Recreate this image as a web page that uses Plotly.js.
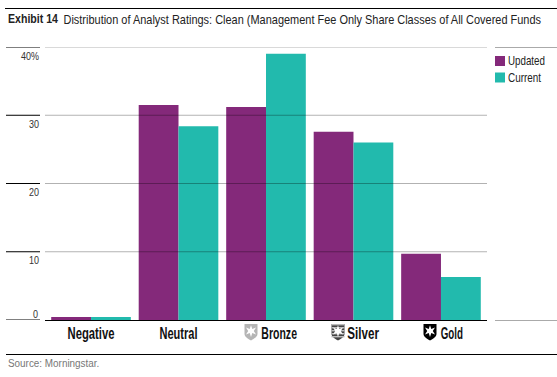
<!DOCTYPE html>
<html>
<head>
<meta charset="utf-8">
<script src="https://cdn.plot.ly/plotly-3.0.1.min.js"></script>
<style>html,body{margin:0;padding:0;background:#fff}#c{width:557px;height:377px}</style>
</head>
<body>
<div id="c"></div>
<script>
const categories = ["Negative", "Neutral", "Bronze", "Silver", "Gold"];
const categoryLabels = ["Negative", "Neutral", "\u00A0".repeat(9) + "Bronze", "\u00A0".repeat(6) + "Silver", "\u00A0".repeat(8) + "Gold"];
const updated = [0.45, 31.5, 31.2, 27.6, 9.7];
const current = [0.45, 28.4, 39.0, 26.0, 6.3];
const yTicks = [0, 10, 20, 30, 40];
const yLabels = ["", "10", "20", "30", "40%"];
const seriesNames = ["Updated", "Current"];
const seriesColors = ["#84297A", "#22BAAD"];
const exhibitText = "Exhibit 14";
const titleText = "Distribution of Analyst Ratings: Clean (Management Fee Only Share Classes of All Covered Funds";
const sourceText = "Source: Morningstar.";

const W = 557, H = 377, L = 45, R = 487, T = 47, B = 320;
const px = x => (x - L) / (R - L);
const py = y => (B - y) / (B - T);
const FONT = '"Liberation Sans", Arial, sans-serif';

function shield(fill, stripes) {
  const body = "M0.5 1H13.5V11C13.5 14 9 16.5 7 17.5C5 16.5 0.5 14 0.5 11Z";
  let s = `<svg xmlns="http://www.w3.org/2000/svg" width="14" height="18" viewBox="0 0 14 18"><path d="${body}" fill="${fill}"/>`;
  if (stripes) {
    for (const y of [1, 4, 7, 10, 13]) s += `<rect x="0.5" y="${y}" width="13" height="1.4" fill="${stripes}"/>`;
  }
  s += `<path d="M7 2.2L8.3 5.9L12 4.5L9.8 8L12 11.5L8.3 10.1L7 14L5.7 10.1L2 11.5L4.2 8L2 4.5L5.7 5.9Z" fill="#fff"/></svg>`;
  return "data:image/svg+xml;base64," + btoa(s);
}
function iconImage(src, x) {
  return {source: src, xref: "paper", yref: "paper", x: px(x), y: py(323), sizex: 14 / (R - L), sizey: 18 / (B - T),
    sizing: "stretch", xanchor: "left", yanchor: "top", layer: "above"};
}

const shapes = [];
const line = (x0, y0, x1, y1, color, width) => shapes.push({type: "line", xref: "paper", yref: "paper",
  x0: px(x0), x1: px(x1), y0: py(y0), y1: py(y1), line: {color, width}, layer: "above"});
line(5, 8.5, 557, 8.5, "#000", 1);
line(6, 354.5, 557, 354.5, "#000", 1);
line(495, 47.5, 557, 47.5, "#aaa", 1);
line(495, 320.5, 557, 320.5, "#aaa", 1);
yTicks.forEach(v => {
  shapes.push({type: "line", xref: "paper", yref: "y", x0: px(6), x1: px(40), y0: v, y1: v, line: {color: "#000", width: 1}, layer: "above"});
  if (v > 0) shapes.push({type: "line", xref: "paper", yref: "y", x0: 0, x1: 1, y0: v, y1: v, line: {color: "rgba(0,0,0,0.3)", width: 1.2}, layer: "above"});
});
seriesColors.forEach((c, i) => {
  const y0 = 56 + i * 16.5;
  shapes.push({type: "rect", xref: "paper", yref: "paper", x0: px(495), x1: px(505), y0: py(y0), y1: py(y0 + 10), fillcolor: c, line: {width: 0}, layer: "above"});
});

const annotations = [
  {text: "<b>" + exhibitText + "</b>", xref: "paper", yref: "paper", x: px(6), y: py(18.5), xanchor: "left", yanchor: "middle", align: "left", showarrow: false,
   font: {family: FONT, size: 13, color: "#222"}},
  {text: "0", xref: "paper", yref: "y", x: px(40), y: 0, xanchor: "right", yanchor: "bottom", align: "right", yshift: -1.5, showarrow: false,
   font: {family: FONT, size: 11, color: "#333"}},
  {text: sourceText, xref: "paper", yref: "paper", x: px(5.5), y: py(363.5), xanchor: "left", yanchor: "middle", align: "left", showarrow: false,
   font: {family: FONT, size: 11.5, color: "#777"}}
];
seriesNames.forEach((n, i) => annotations.push({text: n, xref: "paper", yref: "paper", x: px(506), y: py(61 + i * 16.5),
  xanchor: "left", yanchor: "middle", align: "left", showarrow: false, font: {family: FONT, size: 12.5, color: "#222"}}));

const traces = seriesNames.map((n, i) => ({type: "bar", name: n, x: categories.map((_, k) => k),
  y: i === 0 ? updated : current, marker: {color: seriesColors[i], line: {width: 0}}, showlegend: false, hoverinfo: "skip"}));

const layout = {
  width: W, height: H, margin: {l: L, r: W - R, t: T, b: H - B, pad: 0},
  paper_bgcolor: "#fff", plot_bgcolor: "#fff", barmode: "group", bargap: 0.09, bargroupgap: 0, showlegend: false,
  title: {text: titleText, x: 63.5 / W, xanchor: "left", xref: "container", y: 1 - 19 / H, yanchor: "middle", font: {family: FONT, size: 13, color: "#222"}},
  xaxis: {type: "linear", range: [-0.526, 4.526], tickmode: "array", tickvals: categories.map((_, k) => k), ticktext: categoryLabels,
    showgrid: false, zeroline: false, showline: true, linecolor: "#000", linewidth: 1, ticks: "", ticklen: 0,
    tickfont: {family: FONT, size: 16, color: "#111", weight: "bold"}},
  yaxis: {range: [0, 40], tickmode: "array", tickvals: yTicks, ticktext: yLabels, showgrid: false, zeroline: false, showline: false,
    ticks: "", ticklabelposition: "outside bottom", ticklabelstandoff: 5, tickfont: {family: FONT, size: 11, color: "#333"}},
  shapes, annotations,
  images: [iconImage(shield("#B5B5B5"), 244), iconImage(shield("#444", "#BBB"), 331), iconImage(shield("#000"), 423)]
};

// The reference face is a condensed one; squeeze each real text horizontally to the width it has there.
const textWidths = {
  "Negative": 47, "Neutral": 38, "Bronze": 62, "Silver": 51, "Gold": 44,
  "10": 10, "20": 10, "30": 10, "40%": 18, "0": 5,
  "Updated": 37, "Current": 33, "Source: Morningstar.": 91.5,
  "Exhibit 14": 50, [titleText]: 478
};
function condense(gd) {
  gd.querySelectorAll("text").forEach(t => {
    const w = textWidths[t.textContent.trim()];
    if (!w) return;
    const k = w / t.getComputedTextLength();
    const ax = parseFloat(t.getAttribute("x")) || 0;
    const base = t.getAttribute("transform") || "";
    const dy = t.closest(".xtick") ? -1 : t.closest(".ytick") ? 1 : 0;
    t.setAttribute("transform", `${base} translate(${ax},${dy}) scale(${k},1) translate(${-ax},0)`);
  });
}
Plotly.newPlot("c", traces, layout, {staticPlot: true, displayModeBar: false}).then(condense);
</script>
</body>
</html>
